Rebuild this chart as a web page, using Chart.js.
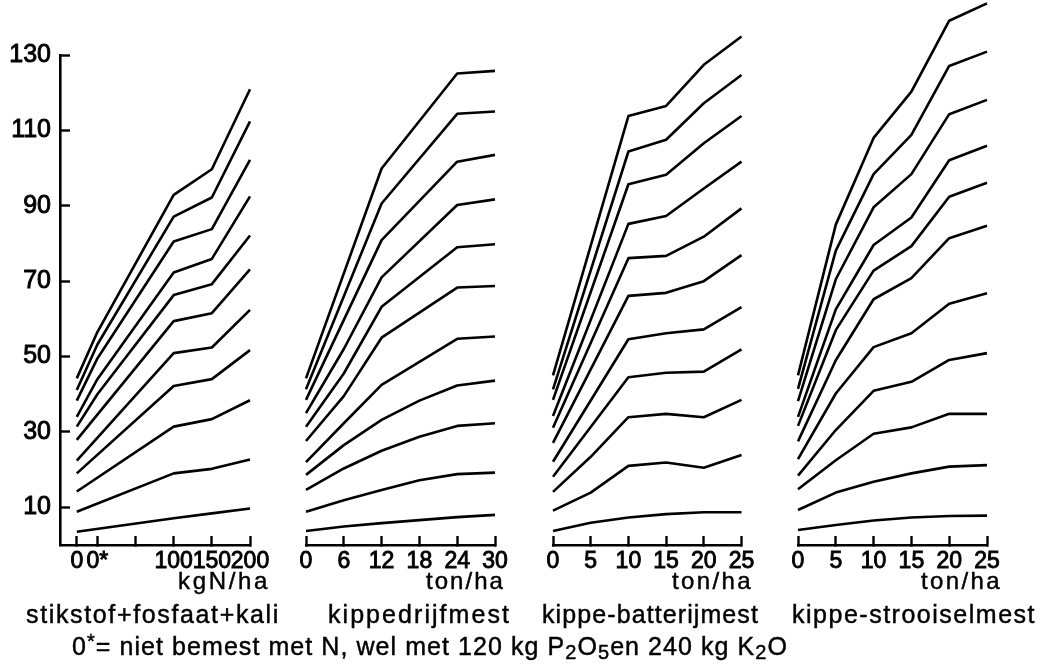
<!DOCTYPE html>
<html>
<head>
<meta charset="utf-8">
<script src="https://cdn.jsdelivr.net/npm/chart.js@4.4.1/dist/chart.umd.min.js"></script>
<style>
html, body { margin: 0; padding: 0; background: #fff; }
#wrap { position: relative; width: 1040px; height: 667px; overflow: hidden; background: #fff; }
canvas { position: absolute; left: 0; top: 0; }
.t { position: absolute; white-space: nowrap; font-family: "Liberation Sans", Arial, sans-serif; color: #000; line-height: 1; -webkit-text-stroke: 0.45px #000; }
.t sub { font-size: 0.8em; vertical-align: -0.18em; line-height: 0; }
.t sup { font-size: 0.8em; vertical-align: 0.35em; line-height: 0; }
</style>
</head>
<body>
<div id="wrap">
  <canvas id="c1" width="1040" height="667"></canvas>
  <canvas id="c2" width="1040" height="667"></canvas>
  <canvas id="c3" width="1040" height="667"></canvas>
  <canvas id="c4" width="1040" height="667"></canvas>
  <div class="t" id="u1" style="font-size:24px">kgN/ha</div>
  <div class="t" id="u2" style="font-size:24px">ton/ha</div>
  <div class="t" id="u3" style="font-size:24px">ton/ha</div>
  <div class="t" id="u4" style="font-size:24px">ton/ha</div>
  <div class="t" id="n1" style="font-size:25px">stikstof+fosfaat+kali</div>
  <div class="t" id="n2" style="font-size:25px">kippedrijfmest</div>
  <div class="t" id="n3" style="font-size:25px">kippe-batterijmest</div>
  <div class="t" id="n4" style="font-size:25px">kippe-strooiselmest</div>
  <div class="t" id="fn" style="font-size:25px">0<sup>*</sup>= niet bemest met N, wel met 120 kg P<sub>2</sub>O<sub>5</sub>en 240 kg K<sub>2</sub>O</div>
</div>
<script>
// ---- data ----
const yTickValues = [10, 30, 50, 70, 90, 110, 130];

// panel 1: stikstof+fosfaat+kali (kg N/ha); "0" drawn left of "0*"
const stikstofX = [-27, 0, 100, 150, 200];
const stikstofTickValues = [-27, 0, 50, 100, 150, 200];
const stikstofTickLabels = ['0', '0*', '', '100', '150', '200'];
const stikstofSeries = [
  [44.2, 56.5, 92.9, 99.7, 120.9],
  [41.1, 53.2, 87.1, 92.2, 112.4],
  [38.3, 49.5, 80.5, 83.8, 102.2],
  [34.0, 44.0, 72.3, 75.9, 92.5],
  [31.4, 40.0, 66.3, 69.2, 82.1],
  [27.9, null, 59.4, 61.5, 73.1],
  [22.4, null, 50.9, 52.4, 62.4],
  [19.0, null, 42.2, 44.0, 51.7],
  [14.2, null, 31.4, 33.4, 38.4],
  [8.8, null, 19.0, 20.2, 22.7],
  [3.5, null, 7.1, 8.4, 9.7]
];

// panel 2: kippedrijfmest (ton/ha)
const drijfX = [0, 6, 12, 18, 24, 30];
const drijfTickLabels = ['0', '6', '12', '18', '24', '30'];
const drijfSeries = [
  [44.2, null, 99.9, null, 125.1, 125.8],
  [41.3, null, 90.6, null, 114.4, 115.0],
  [38.5, null, 80.9, null, 101.7, 103.5],
  [35.0, 52.0, 71.0, null, 90.2, 91.7],
  [31.4, 45.5, 63.2, null, 79.0, 79.8],
  [27.6, 39.5, 55.0, null, 68.3, 68.7],
  [22.0, 32.3, 42.5, null, 54.7, 55.3],
  [18.6, 26.5, 33.2, 38.3, 42.3, 43.6],
  [14.6, 20.3, 25.0, 28.7, 31.6, 32.3],
  [8.8, 11.9, 14.6, 17.2, 18.8, 19.2],
  [3.7, 4.9, 5.8, 6.6, 7.4, 8.0]
];

// panel 3: kippe-batterijmest (ton/ha)
const batterijX = [0, 5, 10, 15, 20, 25];
const batterijTickLabels = ['0', '5', '10', '15', '20', '25'];
const batterijSeries = [
  [45.0, null, 113.8, 116.5, 127.4, 134.9],
  [41.3, null, 104.4, 107.5, 117.2, 124.7],
  [38.5, null, 95.7, 98.2, 106.6, 113.8],
  [34.2, null, 85.2, 87.3, 94.6, 101.7],
  [31.1, null, 76.1, 76.7, 81.8, 89.3],
  [27.1, null, 66.1, 66.9, 70.0, 76.9],
  [22.1, null, 54.6, 56.2, 57.2, 63.1],
  [18.1, null, 44.5, 45.7, 46.0, 51.9],
  [14.1, 23.4, 33.9, 34.8, 33.9, 38.5],
  [9.1, 13.9, 21.0, 21.9, 20.5, 23.9],
  [3.7, 5.9, 7.3, 8.2, 8.7, 8.7]
];

// panel 4: kippe-strooiselmest (ton/ha)
const strooiselX = [0, 5, 10, 15, 20, 25];
const strooiselTickLabels = ['0', '5', '10', '15', '20', '25'];
const strooiselSeries = [
  [45.0, 85.0, 108.0, 120.3, 139.1, 143.7],
  [41.4, 78.1, 98.4, 108.8, 127.1, 130.9],
  [38.2, 70.5, 89.6, 98.4, 114.3, 118.1],
  [34.0, 62.5, 79.6, 86.9, 102.1, 105.9],
  [31.6, 57.0, 72.8, 79.3, 92.4, 96.1],
  [27.5, 49.0, 65.2, 70.8, 81.4, 84.7],
  [22.8, 40.2, 52.5, 56.2, 64.0, 66.8],
  [18.4, 30.5, 40.9, 43.3, 49.1, 50.9],
  [14.8, 22.5, 29.5, 31.2, 34.8, 34.8],
  [9.3, 13.9, 16.8, 19.0, 20.8, 21.2],
  [4.0, 5.3, 6.5, 7.3, 7.7, 7.8]
];

// ---- drawing ----
const INK = '#000';
const W = 1040, H = 667;
const AREA_TOP = 55, AREA_BOTTOM = 545, XAXIS_H = 40;

function makePanel(id, xs, series, xMin, xMax, tickValues, tickLabels, areaLeft, areaRight, showY) {
  const datasets = series.map(s => ({
    data: xs.map((x, i) => ({ x: x, y: s[i] })),
    borderColor: INK,
    borderWidth: 2.6,
    pointRadius: 0,
    tension: 0,
    spanGaps: true,
    clip: false,
    borderJoinStyle: 'round',
    fill: false
  }));
  return new Chart(document.getElementById(id), {
    type: 'line',
    data: { datasets },
    options: {
      responsive: false,
      animation: false,
      events: [],
      devicePixelRatio: 1,
      layout: {
        autoPadding: false,
        padding: {
          left: showY ? 0 : areaLeft,
          right: W - areaRight,
          top: AREA_TOP,
          bottom: H - AREA_BOTTOM - XAXIS_H
        }
      },
      plugins: { legend: { display: false }, tooltip: { enabled: false }, title: { display: false } },
      scales: {
        x: {
          type: 'linear',
          min: xMin, max: xMax,
          afterBuildTicks: s => { s.ticks = tickValues.map(v => ({ value: v })); },
          afterFit: s => { s.height = XAXIS_H; },
          border: { display: true, color: INK, width: 2.6 },
          grid: { display: true, drawOnChartArea: false, drawTicks: true, tickLength: -9, tickWidth: 2.4, tickColor: INK, color: INK },
          ticks: {
            autoSkip: false, maxRotation: 0, minRotation: 0, padding: 12,
            color: INK, textStrokeColor: INK, textStrokeWidth: 0.9,
            font: { family: "'Liberation Sans Narrow', 'Liberation Sans', sans-serif", size: 23 },
            callback: (v, i) => tickLabels[i]
          }
        },
        y: {
          type: 'linear',
          display: showY,
          min: 0, max: 130,
          afterBuildTicks: s => { s.ticks = yTickValues.map(v => ({ value: v })); },
          afterFit: s => { s.width = showY ? areaLeft : 0; },
          border: { display: true, color: INK, width: 2.6 },
          grid: { display: true, drawOnChartArea: false, drawTicks: true, tickLength: -10, tickWidth: 2.4, tickColor: INK, color: INK },
          ticks: {
            padding: 19, color: INK, textStrokeColor: INK, textStrokeWidth: 0.9,
            font: { family: "'Liberation Sans', Arial, sans-serif", size: 25 },
            callback: v => String(v)
          }
        }
      }
    }
  });
}

makePanel('c1', stikstofX, stikstofSeries, -49, 200, stikstofTickValues, stikstofTickLabels, 60, 250, true);
makePanel('c2', drijfX, drijfSeries, 0, 30, drijfX, drijfTickLabels, 306, 495, false);
makePanel('c3', batterijX, batterijSeries, 0, 25, batterijX, batterijTickLabels, 553, 741.5, false);
makePanel('c4', strooiselX, strooiselSeries, 0, 25, strooiselX, strooiselTickLabels, 798, 987, false);

// ---- text layout ----
function fit(id, left, right, top) {
  const el = document.getElementById(id);
  el.style.left = left + 'px';
  el.style.top = top + 'px';
  el.style.letterSpacing = '0px';
  const w = el.getBoundingClientRect().width;
  const n = el.textContent.length;
  el.style.letterSpacing = ((right - left - w) / n) + 'px';
}
fit('u1', 178, 270, 569);
fit('u2', 426, 505, 569);
fit('u3', 672, 753, 569);
fit('u4', 921, 1002, 569);
fit('n1', 26, 280, 602);
fit('n2', 328, 511, 602);
fit('n3', 542, 759, 602);
fit('n4', 792, 1036, 602);
fit('fn', 72, 788, 634);
</script>
</body>
</html>
